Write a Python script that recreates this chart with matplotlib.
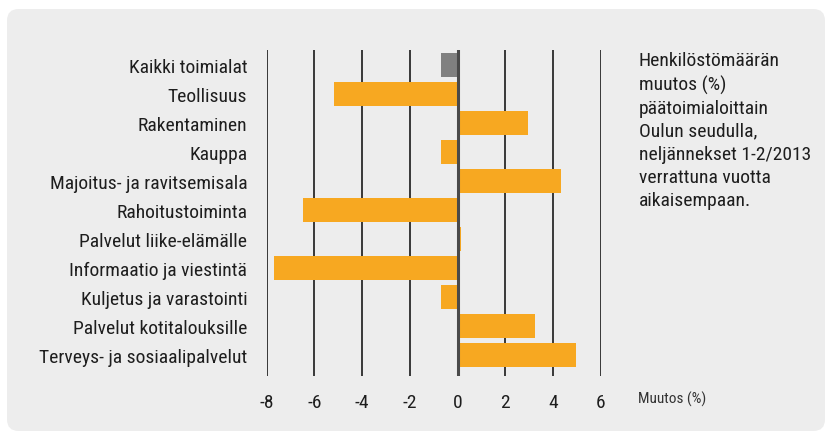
import matplotlib
matplotlib.use("Agg")
import matplotlib.pyplot as plt
from matplotlib.patches import FancyBboxPatch
from matplotlib import font_manager

categories = [
    "Kaikki toimialat",
    "Teollisuus",
    "Rakentaminen",
    "Kauppa",
    "Majoitus- ja ravitsemisala",
    "Rahoitustoiminta",
    "Palvelut liike-elämälle",
    "Informaatio ja viestintä",
    "Kuljetus ja varastointi",
    "Palvelut kotitalouksille",
    "Terveys- ja sosiaalipalvelut",
]
values = [-0.68, -5.17, 2.96, -0.68, 4.35, -6.47, 0.15, -7.68, -0.68, 3.25, 4.97]
xticks = [-8, -6, -4, -2, 0, 2, 4, 6]
xtick_labels = ["-8", "-6", "-4", "-2", "0", "2", "4", "6"]
axis_label = "Muutos (%)"
note = ("Henkilöstömäärän\nmuutos (%)\npäätoimialoittain\nOulun seudulla,\n"
        "neljännekset 1-2/2013\nverrattuna vuotta\naikaisempaan.")

names = {f.name for f in font_manager.fontManager.ttflist}
fam = [f for f in ["Liberation Sans Narrow", "Roboto Condensed", "Liberation Sans"] if f in names] + ["DejaVu Sans"]
plt.rcParams['font.family'] = fam

W, H = 827, 435
fig = plt.figure(figsize=(W / 100, H / 100), dpi=100)
fig.patch.set_facecolor("white")

bg = FancyBboxPatch((7 / W, 3 / H), (818) / W, (422) / H,
                    boxstyle="round,pad=0,rounding_size=0.014",
                    transform=fig.transFigure, facecolor="#ededed",
                    edgecolor="none", zorder=-5, mutation_aspect=W / H)
fig.add_artist(bg)

left, right = 266.7, 600.7
top, bottom = 51, 377
ax = fig.add_axes([left / W, 1 - bottom / H, (right - left) / W, (bottom - top) / H])
ax.set_zorder(2)
ax.set_facecolor("none")
ax.set_xlim(-8, 6)
ax.set_ylim(10.72, -0.52)

for x in xticks:
    if x != 0:
        ax.axvline(x, color="#2a2a2a", lw=1.3, zorder=1)

colors = ["#808080"] + ["#f7a821"] * (len(values) - 1)
y = list(range(len(categories)))
ax.barh(y, values, height=0.83, color=colors, zorder=2)
ax.axvline(0, color="#4a4a4a", lw=2.2, zorder=3)

for s in ax.spines.values():
    s.set_visible(False)
ax.set_yticks(y)
ax.set_yticklabels(categories, fontsize=14, color="#1e1e1e")
ax.tick_params(axis="y", length=0, pad=14)
ax.set_xticks(xticks)
ax.set_xticklabels(xtick_labels, fontsize=14, color="#1e1e1e")
ax.tick_params(axis="x", length=0, pad=12)

fig.text(638 / W, 1 - 399 / H, axis_label, fontsize=11, color="#333333",
         va="center", ha="left")
fig.text(639 / W, 1 - 52 / H, note, fontsize=14, color="#1e1e1e",
         va="top", ha="left", linespacing=1.36)

fig.savefig("out.png", dpi=100)
